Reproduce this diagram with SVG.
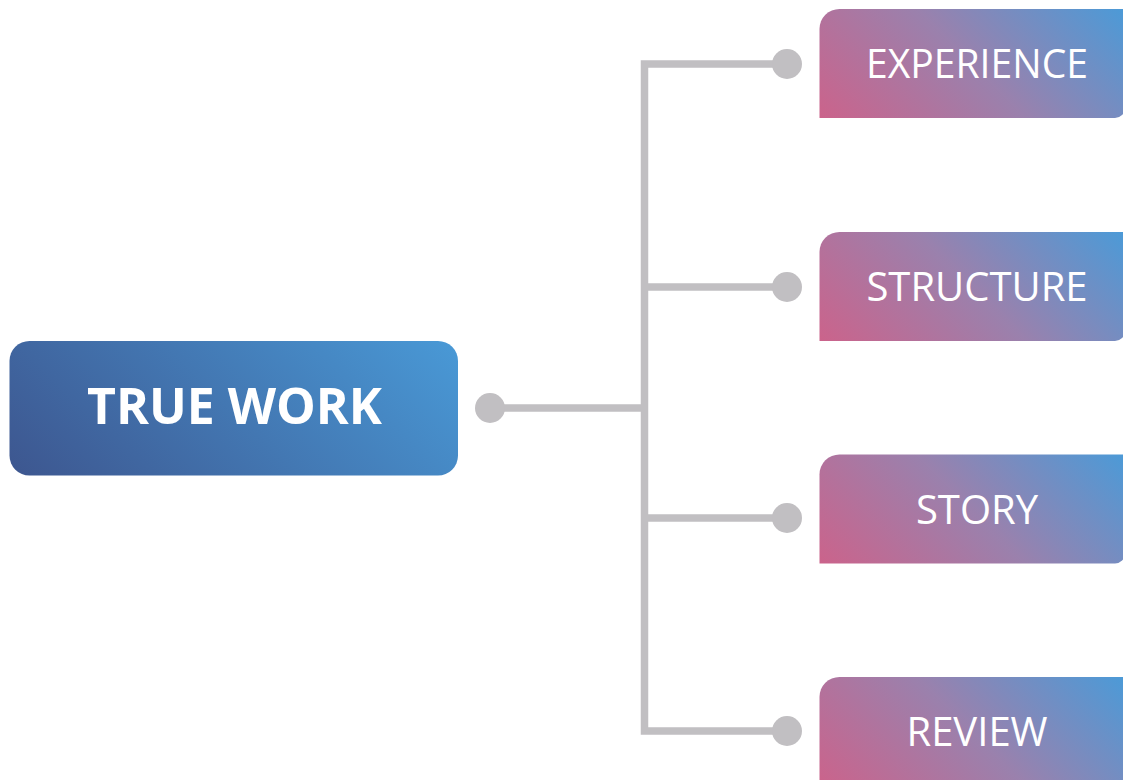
<svg xmlns="http://www.w3.org/2000/svg" width="1123" height="780" viewBox="0 0 1123 780">
<defs>
<linearGradient id="gMain" x1="0" y1="1" x2="1.19" y2="0.64">
<stop offset="0" stop-color="#3d568f"/>
<stop offset="1" stop-color="#4999d6"/>
</linearGradient>
<linearGradient id="gChild" x1="0" y1="1" x2="1.2" y2="0.57">
<stop offset="0" stop-color="#cb638b"/>
<stop offset="0.5" stop-color="#9a81ad"/>
<stop offset="1" stop-color="#4c9ad7"/>
</linearGradient>
</defs>
<style>
.conn{stroke:#c1bfc2;stroke-width:7.5;fill:none;stroke-linejoin:miter}
.dot{fill:#c1bfc2}
.child{fill:url(#gChild)}
.ctext{font-family:"Open Sans","Liberation Sans",sans-serif;font-size:40px;fill:#ffffff;text-anchor:middle}
.mtext{font-family:"Open Sans","Liberation Sans",sans-serif;font-size:50px;font-weight:bold;fill:#ffffff;text-anchor:middle}
</style>
<rect width="1123" height="780" fill="#ffffff"/>
<g id="connectors">
<path class="conn" d="M490,408 H644.5"/>
<path class="conn" d="M787,64 H644.5 V731 H787"/>
<path class="conn" d="M644.5,287 H787"/>
<path class="conn" d="M644.5,518 H787"/>
<circle class="dot" cx="490" cy="408" r="15"/>
<circle class="dot" cx="787" cy="64" r="15"/>
<circle class="dot" cx="787" cy="287" r="15"/>
<circle class="dot" cx="787" cy="518" r="15"/>
<circle class="dot" cx="787" cy="731" r="15"/>
</g>
<g id="node-true-work">
<rect x="9.5" y="341" width="448.5" height="134.5" rx="20" fill="url(#gMain)"/>
<text class="mtext" x="234.5" y="423.5">TRUE WORK</text>
</g>
<g id="node-experience">
<path class="child" d="M819.5,29 A20,20 0 0 1 839.5,9 H1125 V108 A10,10 0 0 1 1115,118 H819.5 Z"/>
<text class="ctext" x="977" y="77.5" textLength="222" lengthAdjust="spacingAndGlyphs">EXPERIENCE</text>
</g>
<g id="node-structure">
<path class="child" d="M819.5,252 A20,20 0 0 1 839.5,232 H1125 V331 A10,10 0 0 1 1115,341 H819.5 Z"/>
<text class="ctext" x="977" y="301">STRUCTURE</text>
</g>
<g id="node-story">
<path class="child" d="M819.5,474.5 A20,20 0 0 1 839.5,454.5 H1125 V553.5 A10,10 0 0 1 1115,563.5 H819.5 Z"/>
<text class="ctext" x="977" y="523.5">STORY</text>
</g>
<g id="node-review">
<path class="child" d="M819.5,697 A20,20 0 0 1 839.5,677 H1125 V776 A10,10 0 0 1 1115,786 H819.5 Z"/>
<text class="ctext" x="977" y="746">REVIEW</text>
</g>
</svg>
